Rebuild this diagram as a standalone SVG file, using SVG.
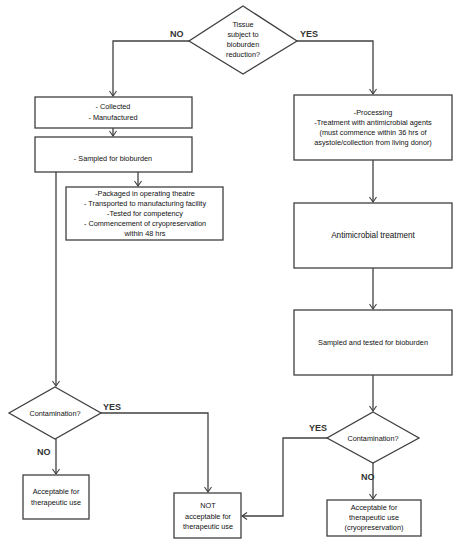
<svg xmlns="http://www.w3.org/2000/svg" width="459" height="543" viewBox="0 0 459 543">
<defs>
<marker id="arr" markerUnits="userSpaceOnUse" markerWidth="10" markerHeight="10" viewBox="-6 -5 7 10" refX="0" refY="0" orient="auto">
<path d="M-5,-3.5 L0,0 L-5,3.5" fill="none" stroke="#404040" stroke-width="1.1"/>
</marker>
<style>
.box{fill:#fff;stroke:#404040;stroke-width:1.3}
.t{font-family:"Liberation Sans",Arial,sans-serif;font-size:7.3px;fill:#111;text-anchor:middle}
.lab{font-family:"Liberation Sans",Arial,sans-serif;font-size:9px;font-weight:bold;fill:#333}
.c{fill:none;stroke:#404040;stroke-width:1.3}
</style>
</defs>
<rect width="459" height="543" fill="#fff"/>
<g id="connectors">
<polyline class="c" points="189,41 113,41 113,96" marker-end="url(#arr)"/>
<polyline class="c" points="297,41 373,41 373,94" marker-end="url(#arr)"/>
<line class="c" x1="113" y1="128" x2="113" y2="136" marker-end="url(#arr)"/>
<line class="c" x1="138" y1="172" x2="138" y2="186" marker-end="url(#arr)"/>
<line class="c" x1="56" y1="172" x2="56" y2="386" marker-end="url(#arr)"/>
<line class="c" x1="373" y1="160" x2="373" y2="202" marker-end="url(#arr)"/>
<line class="c" x1="373" y1="268" x2="373" y2="309" marker-end="url(#arr)"/>
<line class="c" x1="373" y1="375" x2="373" y2="411" marker-end="url(#arr)"/>
<line class="c" x1="56" y1="439" x2="56" y2="474" marker-end="url(#arr)"/>
<polyline class="c" points="101,413 208,413 208,492" marker-end="url(#arr)"/>
<line class="c" x1="373" y1="463" x2="373" y2="499" marker-end="url(#arr)"/>
<polyline class="c" points="327,438 283,438 283,516 242,516" marker-end="url(#arr)"/>
<text class="lab" x="170" y="37">NO</text>
<text class="lab" x="300" y="37">YES</text>
<text class="lab" x="103" y="410">YES</text>
<text class="lab" x="37" y="455">NO</text>
<text class="lab" x="309" y="431">YES</text>
<text class="lab" x="361" y="480">NO</text>
</g>
<g id="q1">
<polygon class="box" points="243,6 297,41 243,74 189,41"/>
<text class="t" x="243" y="27">Tissue</text>
<text class="t" x="243" y="37">subject to</text>
<text class="t" x="243" y="47">bioburden</text>
<text class="t" x="243" y="57">reduction?</text>
</g>
<g id="collected">
<rect class="box" x="35" y="97" width="157" height="31"/>
<text class="t" x="113" y="109">- Collected</text>
<text class="t" x="113" y="120">- Manufactured</text>
</g>
<g id="sampled">
<rect class="box" x="35" y="137" width="157" height="35"/>
<text class="t" x="113" y="161">- Sampled for bioburden</text>
</g>
<g id="packaged">
<rect class="box" x="66" y="187" width="157" height="53"/>
<text class="t" x="145" y="196">-Packaged in operating theatre</text>
<text class="t" x="145" y="206">- Transported to manufacturing facility</text>
<text class="t" x="145" y="216">-Tested for competency</text>
<text class="t" x="145" y="226">- Commencement of cryopreservation</text>
<text class="t" x="145" y="236">within 48 hrs</text>
</g>
<g id="processing">
<rect class="box" x="294" y="95" width="158" height="65"/>
<text class="t" x="373" y="115">-Processing</text>
<text class="t" x="373" y="125">-Treatment with antimicrobial agents</text>
<text class="t" x="373" y="135">(must commence within 36 hrs of</text>
<text class="t" x="373" y="145">asystole/collection from living donor)</text>
</g>
<g id="antimicrobial">
<rect class="box" x="294" y="203" width="158" height="65"/>
<text class="t" x="373" y="238" style="font-size:8.2px">Antimicrobial treatment</text>
</g>
<g id="sampledtested">
<rect class="box" x="294" y="310" width="158" height="65"/>
<text class="t" x="373" y="345">Sampled and tested for bioburden</text>
</g>
<g id="q2">
<polygon class="box" points="55,387 101,413 55,439 9,413"/>
<text class="t" x="55" y="416">Contamination?</text>
</g>
<g id="acc1">
<rect class="box" x="23" y="475" width="66" height="44"/>
<text class="t" x="56" y="494">Acceptable for</text>
<text class="t" x="56" y="505">therapeutic use</text>
</g>
<g id="notacc">
<rect class="box" x="174" y="493" width="67" height="45"/>
<text class="t" x="208" y="508">NOT</text>
<text class="t" x="208" y="519">acceptable for</text>
<text class="t" x="208" y="529">therapeutic use</text>
</g>
<g id="q3">
<polygon class="box" points="373,412 419,438 373,463 327,438"/>
<text class="t" x="373" y="441">Contamination?</text>
</g>
<g id="acc2">
<rect class="box" x="327" y="500" width="94" height="36"/>
<text class="t" x="374" y="510">Acceptable for</text>
<text class="t" x="374" y="520">therapeutic use</text>
<text class="t" x="374" y="530">(cryopreservation)</text>
</g>
</svg>
